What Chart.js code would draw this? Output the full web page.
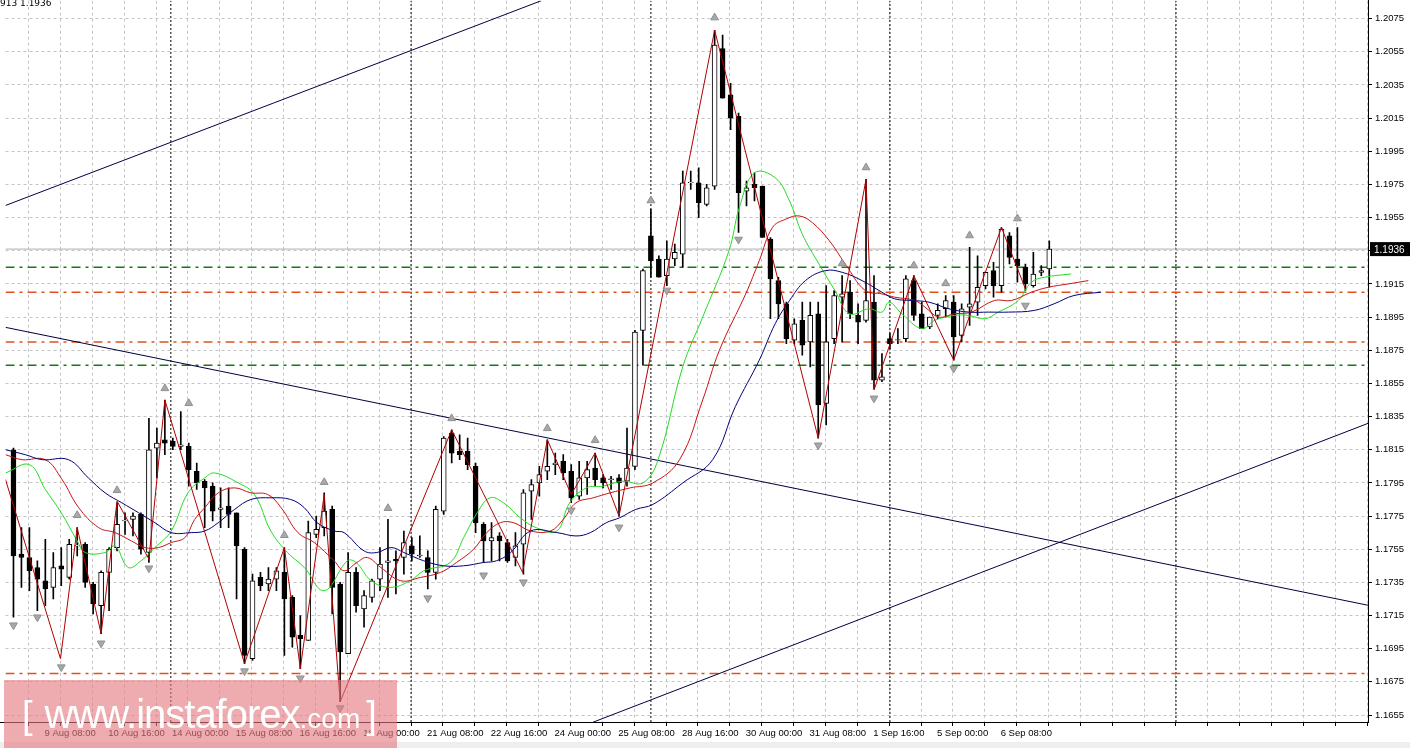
<!DOCTYPE html>
<html><head><meta charset="utf-8">
<script src="https://cdn.jsdelivr.net/npm/chart.js@4/dist/chart.umd.min.js"></script>
<style>
html,body{margin:0;padding:0;background:#fff;overflow:hidden}
#wrap{position:relative;width:1410px;height:748px;overflow:hidden}
#c{position:absolute;left:0;top:-8px}
#wm{position:absolute;left:4px;top:680px;width:393px;height:68px;background:rgba(228,120,128,0.62);color:#fff;font-family:'Liberation Sans',Arial,sans-serif;white-space:nowrap;line-height:68px}
#tl{position:absolute;left:0;top:-2px;font:9px 'DejaVu Sans';color:#000}
</style></head><body>
<div id="wrap"><canvas id="c" width="1410" height="756"></canvas>
<div id="tl">913 1.1936</div>
<div id="wm"><span style="font-size:38px;margin-left:18px">[</span><span style="font-size:40px;margin-left:12px;letter-spacing:-1px">www.instaforex</span><span style="font-size:28px">.com</span><span style="font-size:38px;margin-left:6px">]</span></div>
</div>
<script>
const opens=[1.1815,1.1752,1.1750,1.1744,1.1736,1.1732,1.1745,1.1738,1.1757,1.1758,1.1734,1.1721,1.1741,1.1756,1.1772,1.1773,1.1776,1.1753,1.1816,1.1821,1.1820,1.1817,1.1817,1.1802,1.1796,1.1793,1.1779,1.1781,1.1777,1.1755,1.1689,1.1738,1.1734,1.1737,1.1741,1.1726,1.1703,1.1700,1.1764,1.1768,1.1779,1.1734,1.1692,1.1741,1.1719,1.1726,1.1737,1.1747,1.1749,1.1750,1.1757,1.1751,1.1750,1.1741,1.1778,1.1825,1.1814,1.1814,1.1805,1.1770,1.1760,1.1763,1.1759,1.1750,1.1758,1.1790,1.1795,1.1802,1.1806,1.1808,1.1802,1.1787,1.1798,1.1804,1.1798,1.1797,1.1798,1.1796,1.1805,1.1887,1.1944,1.1930,1.1920,1.1930,1.1933,1.1976,1.1976,1.1963,1.1974,1.2057,1.2029,1.2016,1.1971,1.1975,1.1974,1.1942,1.1917,1.1903,1.1881,1.1893,1.1880,1.1897,1.1843,1.1882,1.1907,1.1910,1.1896,1.1893,1.1904,1.1857,1.1882,1.1881,1.1882,1.1917,1.1897,1.1889,1.1896,1.1900,1.1904,1.1884,1.1901,1.1904,1.1914,1.1923,1.1914,1.1944,1.1930,1.1925,1.1914,1.1922,1.1924];
const highs=[1.1816,1.1768,1.1768,1.1748,1.1761,1.1753,1.1756,1.1761,1.1768,1.1759,1.1735,1.1742,1.1756,1.1783,1.1777,1.1777,1.1777,1.1834,1.1828,1.1845,1.1822,1.1838,1.1819,1.1807,1.1797,1.1795,1.1792,1.1792,1.1777,1.1756,1.1740,1.1741,1.1744,1.1744,1.1756,1.1727,1.1715,1.1772,1.1775,1.1789,1.1781,1.1735,1.1753,1.1744,1.1730,1.1737,1.1756,1.1773,1.1754,1.1766,1.1762,1.1763,1.1754,1.1781,1.1823,1.1827,1.1824,1.1822,1.1807,1.1771,1.1771,1.1765,1.1761,1.1765,1.1791,1.1797,1.1805,1.1821,1.1813,1.1812,1.1806,1.1808,1.1808,1.1813,1.1800,1.1799,1.1800,1.1828,1.1887,1.1924,1.1960,1.1932,1.1941,1.1939,1.1983,1.1983,1.1985,1.1975,1.2068,1.2065,1.2036,1.2018,1.1977,1.1982,1.1974,1.1943,1.1919,1.1904,1.1894,1.1904,1.1904,1.1904,1.1914,1.1911,1.1920,1.1917,1.1903,1.1978,1.1920,1.1873,1.1885,1.1888,1.1920,1.1920,1.1904,1.1895,1.1903,1.1908,1.1908,1.1903,1.1937,1.1932,1.1922,1.1928,1.1949,1.1946,1.1949,1.1927,1.1934,1.1926,1.1941];
const lows=[1.1714,1.1732,1.1730,1.1718,1.1721,1.1725,1.1733,1.1737,1.1751,1.1732,1.1716,1.1704,1.1718,1.1754,1.1764,1.1763,1.1752,1.1747,1.1798,1.1812,1.1815,1.1815,1.1793,1.1791,1.1768,1.1772,1.1768,1.1768,1.1725,1.1686,1.1688,1.1730,1.1730,1.1730,1.1691,1.1696,1.1683,1.1700,1.1762,1.1763,1.1716,1.1663,1.1692,1.1717,1.1708,1.1723,1.1730,1.1726,1.1728,1.1740,1.1748,1.1750,1.1731,1.1737,1.1776,1.1807,1.1809,1.1803,1.1765,1.1747,1.1748,1.1748,1.1747,1.1745,1.1740,1.1773,1.1787,1.1797,1.1800,1.1797,1.1783,1.1785,1.1788,1.1793,1.1792,1.1791,1.1775,1.1793,1.1803,1.1866,1.1919,1.1919,1.1914,1.1926,1.1925,1.1972,1.1955,1.1962,1.1972,1.2027,1.2008,1.1946,1.1962,1.1965,1.1943,1.1894,1.1894,1.1879,1.1879,1.1872,1.1865,1.1822,1.1830,1.1879,1.1880,1.1894,1.1879,1.1892,1.1852,1.1856,1.1876,1.1879,1.1880,1.1893,1.1888,1.1888,1.1894,1.1895,1.1869,1.1880,1.1890,1.1896,1.1912,1.1907,1.1910,1.1927,1.1916,1.1911,1.1913,1.1920,1.1913];
const closes=[1.1751,1.1750,1.1742,1.1737,1.1731,1.1744,1.1743,1.1758,1.1757,1.1735,1.1722,1.1741,1.1755,1.1770,1.1772,1.1775,1.1755,1.1815,1.1819,1.1819,1.1817,1.1818,1.1803,1.1795,1.1792,1.1778,1.1780,1.1776,1.1757,1.1691,1.1736,1.1733,1.1737,1.1742,1.1725,1.1702,1.1701,1.1765,1.1767,1.1778,1.1732,1.1693,1.1741,1.1721,1.1727,1.1736,1.1746,1.1748,1.1748,1.1759,1.1752,1.1751,1.1741,1.1779,1.1822,1.1813,1.1812,1.1806,1.1771,1.1760,1.1762,1.1760,1.1748,1.1757,1.1789,1.1794,1.1800,1.1805,1.1807,1.1801,1.1786,1.1798,1.1803,1.1797,1.1795,1.1797,1.1795,1.1804,1.1886,1.1923,1.1929,1.1919,1.1930,1.1934,1.1976,1.1976,1.1964,1.1973,1.2059,1.2027,1.2015,1.1970,1.1973,1.1973,1.1943,1.1918,1.1903,1.1882,1.1891,1.1878,1.1896,1.1842,1.1880,1.1908,1.1909,1.1897,1.1892,1.1905,1.1857,1.1859,1.1879,1.1881,1.1918,1.1896,1.1888,1.1895,1.1899,1.1905,1.1883,1.1900,1.1903,1.1913,1.1922,1.1914,1.1948,1.1931,1.1926,1.1915,1.1921,1.1923,1.1936];

const maFastX=[-1,2,4,6,8,9,11.5,12.75,14.4,16,17.75,19.8,21.9,24,25.25,28.2,30.25,32.3,34.4,36.5,39,41.9,43,44.9,47.3,49.8,51.5,54.8,56.5,58.2,59.8,61.5,63.6,65.6,68.2,69.8,71.9,74,76.5,79,80.9,84,86.5,89.8,91.1,93,95.6,97.4,99,101.1,103.1,104.9,107.4,109,109.9,111.5,114,115.6,118.1,119.9,121.9,123.6,126.1,127.75,129.4,132.75];
const maFastY=[1.1801,1.1806,1.1791,1.1777,1.1760,1.1753,1.1753,1.1757,1.1744,1.1748,1.1756,1.1766,1.1789,1.1798,1.1801,1.1795,1.1788,1.1766,1.1753,1.1744,1.1730,1.1748,1.1747,1.1736,1.1732,1.1736,1.1742,1.1747,1.1762,1.1777,1.1786,1.1783,1.1774,1.1768,1.1766,1.1783,1.1792,1.1793,1.1796,1.1795,1.1809,1.1865,1.1895,1.1935,1.1961,1.1982,1.1979,1.1965,1.1945,1.1927,1.1911,1.1897,1.1900,1.1898,1.1904,1.1897,1.1888,1.1893,1.1896,1.1896,1.1894,1.1898,1.1905,1.1916,1.1919,1.1921];
const maMidX=[-1,1.1,4,6.1,8.2,10.7,12.75,14.8,16.5,18.2,19.8,21.5,22.75,24,25.7,27.75,29.8,31.9,33.6,35.7,37.75,40.25,41.5,43.1,44.4,46.1,48.6,51.1,53.6,55.6,57.75,59.4,61.1,62.75,64.9,67.4,69,70.6,72.75,74.9,77.4,80.25,83.6,86.5,88.6,91.9,93.6,95.25,96.9,98.6,100.25,102.4,104.4,106.9,109,110.6,113.1,114.4,116.1,118.1,120.25,123.1,125.25,127.75,129.9,132.4,134.9];
const maMidY=[1.1812,1.1809,1.1809,1.1797,1.1780,1.1768,1.1765,1.1760,1.1756,1.1756,1.1759,1.1762,1.1773,1.1780,1.1789,1.1792,1.1789,1.1788,1.1780,1.1765,1.1759,1.1748,1.1742,1.1747,1.1750,1.1744,1.1736,1.1738,1.1741,1.1747,1.1755,1.1765,1.1771,1.1771,1.1766,1.1766,1.1773,1.1783,1.1786,1.1789,1.1792,1.1795,1.1809,1.1845,1.1875,1.1909,1.1929,1.1949,1.1954,1.1956,1.1952,1.1941,1.1927,1.1911,1.1909,1.1907,1.1905,1.1901,1.1895,1.1897,1.1898,1.1905,1.1905,1.1910,1.1913,1.1915,1.1917];
const maSlowX=[-1,1.5,3.6,6.9,9.4,11.5,13.6,15.7,17.75,19.8,22.3,24,25.7,27.75,29.8,32.3,34.8,36.5,38.1,40.25,41.5,44,45.6,47.4,49,51.5,54,56.5,59,60.6,62.4,64.9,68.2,70.6,72.4,74.4,76.1,78.1,80.25,84,87.75,90.6,93.6,95.6,97.4,99.4,101.9,104,106.5,109,110.6,112.75,114.9,117.4,119.9,122.4,124.9,128.1,130.6,133.1,136.5];
const maSlowY=[1.1815,1.1812,1.1809,1.1809,1.1798,1.1789,1.1783,1.1777,1.1771,1.1765,1.1765,1.1766,1.1771,1.1779,1.1785,1.1786,1.1785,1.1780,1.1771,1.1766,1.1765,1.1754,1.1753,1.1756,1.1753,1.1748,1.1745,1.1745,1.1747,1.1748,1.1753,1.1766,1.1765,1.1763,1.1765,1.1771,1.1774,1.1779,1.1782,1.1795,1.1809,1.1841,1.1869,1.1891,1.1905,1.1917,1.1923,1.1922,1.1917,1.1910,1.1906,1.1905,1.1904,1.1900,1.1898,1.1898,1.1898,1.1899,1.1903,1.1908,1.1910];
const zigX=[-1,5.9,8,11,13,17,19,29,34,36,39,41,55,63.9,67,70,73,76,88,101,107,108,113,118,124,127];
const zigY=[1.1797,1.1689,1.1768,1.1704,1.1784,1.1749,1.1845,1.1686,1.1756,1.1683,1.1788,1.1663,1.1827,1.1741,1.1821,1.1788,1.1813,1.1775,1.2068,1.1822,1.1978,1.1851,1.1920,1.1869,1.1949,1.1912];
const upArrowX=[8,13,19,22,34,39,47,55,67,73,80,88,104,107,113,117,120,126];
const upArrowY=[1.17755,1.17905,1.18520,1.18430,1.17634,1.17954,1.17797,1.18339,1.18279,1.18207,1.19653,1.20756,1.19273,1.19852,1.19261,1.19153,1.19442,1.19544];
const dnArrowX=[0,3,6,11,17,29,36,41,52,59,64,70,76,82,91,101,108,118,127];
const dnArrowY=[1.17092,1.17140,1.16839,1.16983,1.17435,1.16815,1.16772,1.16592,1.17255,1.17393,1.17351,1.17785,1.17682,1.19111,1.19418,1.18177,1.18460,1.18640,1.19020];
const trendLines=[[-1,1.19623,66.25,1.20858],[-1,1.18888,170,1.17212],[72.75,1.16507,170,1.18309]];
const levelsGreen=[1.1925,1.1866];
const levelsOrange=[1.1910,1.1880,1.1680];
const lastPrice=1.1936;
const weekSeparators=[19.75,49.9,80,110,145.9];
const timeLabels=['9 Aug 08:00','10 Aug 16:00','14 Aug 00:00','15 Aug 08:00','16 Aug 16:00','18 Aug 00:00','21 Aug 08:00','22 Aug 16:00','24 Aug 00:00','25 Aug 08:00','28 Aug 16:00','30 Aug 00:00','31 Aug 08:00','1 Sep 16:00','5 Sep 00:00','6 Sep 08:00'];
const yTickStart=1.1655, yTickStep=0.002, yTickCount=22;
const X_MIN=-1, X_MAX=170, Y_MIN=1.16508, Y_MAX=1.20858;

const pts=(xs,ys)=>xs.map((x,i)=>({x,y:ys[i]}));
const ds=[];
ds.push({type:'bar',label:'wick',data:opens.map((o,i)=>({x:i,y:[lows[i],highs[i]]})),backgroundColor:'#000',barThickness:1,grouped:false,order:5});
ds.push({type:'bar',label:'body',data:opens.map((o,i)=>{const c=closes[i];const a=Math.abs(c-o)<0.00004?(o+0.00004):c;return {x:i,y:[o,a]};}),
  backgroundColor:opens.map((o,i)=>closes[i]<o?'#000':'#fff'),borderColor:'#000',borderWidth:1,borderSkipped:false,barThickness:5,grouped:false,order:4});
const line=(data,color,extra)=>Object.assign({type:'line',data,borderColor:color,borderWidth:1,pointRadius:0,fill:false,order:1},extra||{});
levelsGreen.forEach(v=>ds.push(line([{x:X_MIN,y:v},{x:X_MAX,y:v}],'#137a13',{borderDash:[9,5,3,5],borderWidth:1.5,order:6})));
levelsOrange.forEach(v=>ds.push(line([{x:X_MIN,y:v},{x:X_MAX,y:v}],'#e0521f',{borderDash:[9,5,3,5],borderWidth:1.5,order:6})));
ds.push(line([{x:X_MIN,y:lastPrice},{x:X_MAX,y:lastPrice}],'#b0b0b0',{order:6}));
weekSeparators.forEach(v=>ds.push(line([{x:v,y:Y_MIN},{x:v,y:Y_MAX}],'#000',{borderDash:[2,2],order:6})));
trendLines.forEach(t=>ds.push(line([{x:t[0],y:t[1]},{x:t[2],y:t[3]}],'#000040',{order:3})));
ds.push(line(pts(maSlowX,maSlowY),'#00007a',{tension:0.4,order:2}));
ds.push(line(pts(maMidX,maMidY),'#c81414',{tension:0.4,order:2}));
ds.push(line(pts(maFastX,maFastY),'#22dd22',{tension:0.4,order:2}));
ds.push(line(pts(zigX,zigY),'#b00000',{order:1}));
ds.push({type:'scatter',data:pts(upArrowX,upArrowY),pointStyle:'triangle',radius:4.5,backgroundColor:'#a8a8a8',borderColor:'#909090',borderWidth:1,order:0});
ds.push({type:'scatter',data:pts(dnArrowX,dnArrowY),pointStyle:'triangle',rotation:180,radius:4.5,backgroundColor:'#a8a8a8',borderColor:'#909090',borderWidth:1,order:0});

const priceTag={id:'priceTag',afterDraw(ch){const y=ch.scales.y, c=ch.ctx, py=y.getPixelForValue(lastPrice);
  c.save();c.fillStyle='#000';c.fillRect(y.left+2,py-7,40,14);c.fillStyle='#fff';c.font='10px "Liberation Sans"';c.textBaseline='middle';c.fillText(lastPrice.toFixed(4),y.left+6,py+1);
  c.fillStyle='#eeeeee';c.fillRect(0,ch.height-6,ch.width,6);c.restore();}};

new Chart(document.getElementById('c'),{
  type:'bar',data:{datasets:ds},
  options:{responsive:false,animation:false,layout:{padding:0},
    plugins:{legend:{display:false},tooltip:{enabled:false}},
    scales:{
      x:{type:'linear',min:X_MIN,max:X_MAX,offset:false,
        afterBuildTicks(s){const t=[];for(let v=-0.1;v<X_MAX;v+=4)t.push({value:v});s.ticks=t;},
        afterFit(s){s.height=26;},
        grid:{color:'#c4c4c4',lineWidth:1,tickLength:4,tickColor:'#000'},
        border:{display:true,color:'#000',dash:[3,3]},
        ticks:{autoSkip:false,maxRotation:0,align:'start',padding:2,color:'#000',font:{family:'Liberation Sans',size:9.5},
          callback(v,i){const k=i-1;return (k>=0&&k%2===0&&timeLabels[k/2])?timeLabels[k/2]:'';}}},
      y:{type:'linear',position:'right',min:Y_MIN,max:Y_MAX,
        afterBuildTicks(s){const t=[];for(let k=0;k<yTickCount;k++)t.push({value:yTickStart+k*yTickStep});s.ticks=t;},
        afterFit(s){s.width=42;},
        grid:{color:'#c4c4c4',tickLength:4,tickColor:'#000'},
        border:{display:true,color:'#000',width:1,dash:[3,3]},
        ticks:{color:'#000',padding:3,font:{family:'Liberation Sans',size:9.5},callback:v=>Number(v).toFixed(4)}}
    }},
  plugins:[priceTag,{id:'axisLines',afterDraw(ch){const c=ch.ctx,a=ch.chartArea;c.save();c.strokeStyle='#000';c.lineWidth=1;c.beginPath();c.moveTo(a.right+0.5,0);c.lineTo(a.right+0.5,a.bottom);c.moveTo(0,a.bottom+0.5);c.lineTo(a.right,a.bottom+0.5);c.stroke();c.restore();}}]
});
</script></body></html>
